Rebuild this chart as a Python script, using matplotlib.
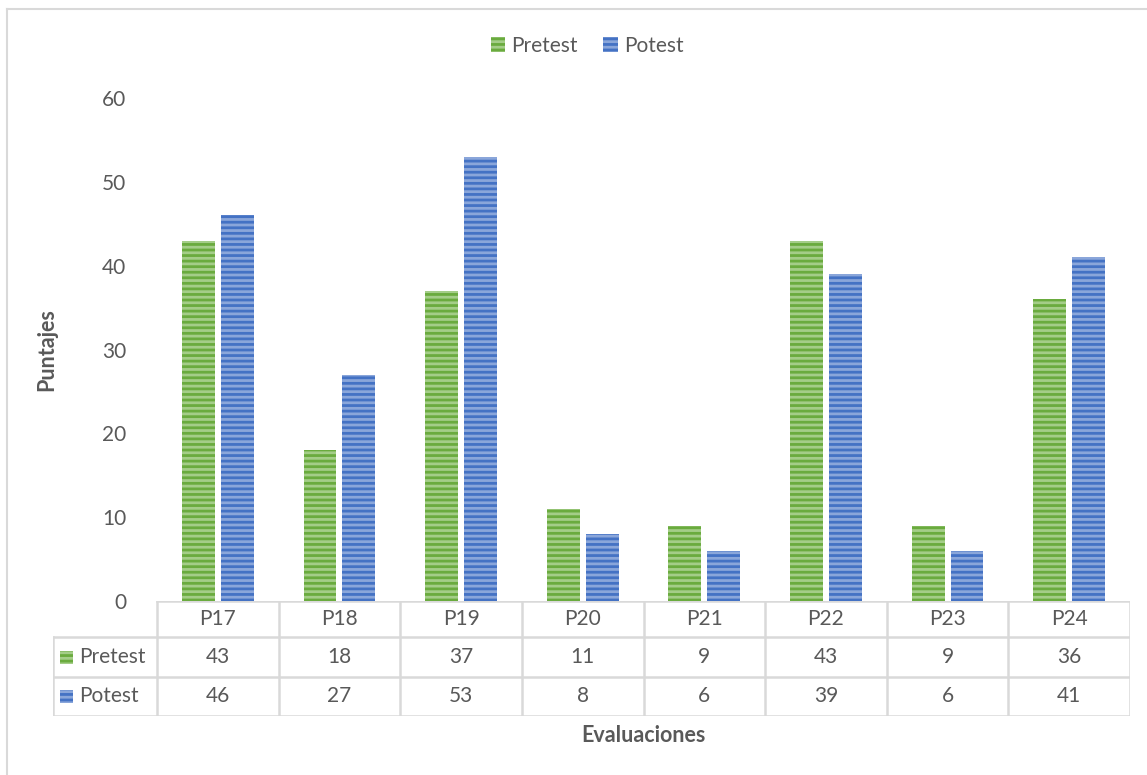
import matplotlib.pyplot as plt
from matplotlib.patches import Patch
import numpy as np

# Scores per evaluation item
categories = ['P17', 'P18', 'P19', 'P20', 'P21', 'P22', 'P23', 'P24']
pretest = [43, 18, 37, 11, 9, 43, 9, 36]
potest = [46, 27, 53, 8, 6, 39, 6, 41]
series_names = ['Pretest', 'Potest']
yticks = [0, 10, 20, 30, 40, 50, 60]

GREEN = '#6aab3e'
GREEN_LIGHT = '#a4cd88'
BLUE = '#4472c4'
BLUE_LIGHT = '#8aa6da'
TEXT = '#595959'
GRID = '#d9d9d9'
FS = 15

plt.rcParams['font.family'] = ['Lato', 'DejaVu Sans']
plt.rcParams['hatch.linewidth'] = 2.0

W, H = 1147, 775
fig = plt.figure(figsize=(W / 100, H / 100), dpi=100)

def fx(px):
    return px / W

def fy(py):
    return 1 - py / H

# outer chart border (left and top edges)
fig.add_artist(plt.Line2D([fx(7), fx(7)], [fy(9), 0], color=GRID, lw=1.5))
fig.add_artist(plt.Line2D([fx(7), 1], [fy(9), fy(9)], color=GRID, lw=1.5))

left, right, top, bottom = 157, 1130, 98, 601
ax = fig.add_axes([fx(left), fy(bottom), fx(right - left), fy(top) - fy(bottom)])

x = np.arange(len(categories))
w = 0.27
ax.bar(x - 0.16, pretest, w, color=GREEN, edgecolor=GREEN_LIGHT, linewidth=0, hatch='---')
ax.bar(x + 0.16, potest, w, color=BLUE, edgecolor=BLUE_LIGHT, linewidth=0, hatch='---')

ax.set_xlim(-0.5, len(categories) - 0.5)
ax.set_ylim(0, 60)
ax.set_yticks(yticks)
ax.set_xticks([])
ax.tick_params(axis='y', length=0, pad=22, labelsize=FS, labelcolor=TEXT)
for s in ax.spines.values():
    s.set_visible(False)
ax.set_ylabel('Puntajes', fontsize=15.5, fontweight='bold', color=TEXT)
ax.yaxis.set_label_coords(-(left - 57) / (right - left), 0.5)

# legend at the top
handles = [Patch(facecolor=GREEN, edgecolor=GREEN_LIGHT, hatch='---', linewidth=0),
           Patch(facecolor=BLUE, edgecolor=BLUE_LIGHT, hatch='---', linewidth=0)]
fig.legend(handles, series_names, loc='center', bbox_to_anchor=(fx(587), fy(46)),
           ncol=2, frameon=False, fontsize=FS, labelcolor=TEXT,
           handlelength=0.7, handleheight=0.7, handletextpad=0.3, columnspacing=1.2)

# data table below the plot
tleft, tbottom = 53, 716
tax = fig.add_axes([fx(tleft), fy(tbottom), fx(right - tleft), fy(bottom) - fy(tbottom)])
cat_w = (right - left) / len(categories)
x0 = -0.5 - (left - tleft) / cat_w
tax.set_xlim(x0, len(categories) - 0.5)
tax.set_ylim(tbottom - bottom, 0)
tax.axis('off')

rows = [0, 36, 76, 115]
lw = 1.8
tax.plot([-0.5, len(categories) - 0.5], [rows[0], rows[0]], color=GRID, lw=lw)
for r in rows[1:]:
    tax.plot([x0, len(categories) - 0.5], [r, r], color=GRID, lw=lw)
for i in range(len(categories) + 1):
    tax.plot([i - 0.5, i - 0.5], [rows[0], rows[-1]], color=GRID, lw=lw)
tax.plot([x0, x0], [rows[1], rows[-1]], color=GRID, lw=lw)

for i, c in enumerate(categories):
    tax.text(i, (rows[0] + rows[1]) / 2, c, ha='center', va='center', fontsize=FS, color=TEXT)
    tax.text(i, (rows[1] + rows[2]) / 2, str(pretest[i]), ha='center', va='center', fontsize=FS, color=TEXT)
    tax.text(i, (rows[2] + rows[3]) / 2, str(potest[i]), ha='center', va='center', fontsize=FS, color=TEXT)

sq = 13 / cat_w
for k, (name, fc, ec) in enumerate([('Pretest', GREEN, GREEN_LIGHT), ('Potest', BLUE, BLUE_LIGHT)]):
    yc = (rows[k + 1] + rows[k + 2]) / 2
    tax.add_patch(plt.Rectangle((x0 + 7 / cat_w, yc - 6.5), sq, 13, facecolor=fc,
                                edgecolor=ec, hatch='---', linewidth=0))
    tax.text(x0 + 26 / cat_w, yc, name, ha='left', va='center', fontsize=FS, color=TEXT)

fig.text(fx((left + right) / 2), fy(735), 'Evaluaciones', ha='center', va='center',
         fontsize=15.5, fontweight='bold', color=TEXT)

fig.savefig('out.png', dpi=100)
